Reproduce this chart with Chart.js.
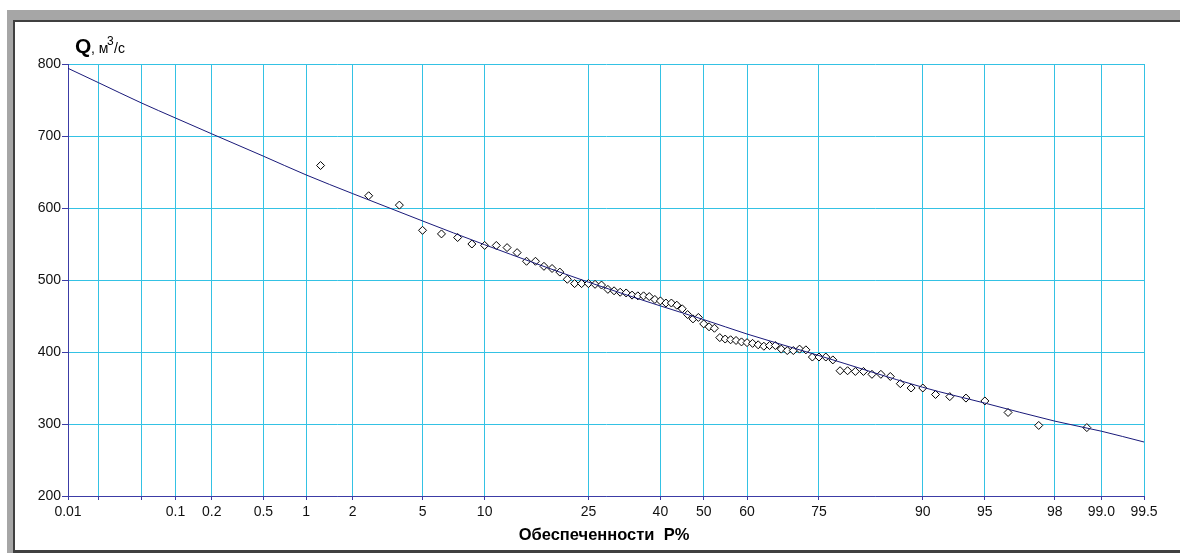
<!DOCTYPE html>
<html>
<head>
<meta charset="utf-8">
<script src="https://cdn.jsdelivr.net/npm/chart.js@4.4.1/dist/chart.umd.min.js"></script>
<style>
  html, body { margin: 0; padding: 0; background: #fff; overflow: hidden; }
  canvas { display: block; }
</style>
</head>
<body>
<canvas id="chart" width="1180" height="553"></canvas>
<script>
// Probability-paper axis: exceedance probability, percent
const tickP = [0.01, 0.02, 0.05, 0.1, 0.2, 0.5, 1, 2, 5, 10, 25, 40, 50, 60, 75, 90, 95, 98, 99, 99.5];
const tickLabels = ['0.01', '', '', '0.1', '0.2', '0.5', '1', '2', '5', '10', '25', '40', '50', '60', '75', '90', '95', '98', '99.0', '99.5'];
const yTicks = [200, 300, 400, 500, 600, 700, 800];

// Fitted supply curve, Q (m3/s) at given P%
const curveP = [0.01, 0.02, 0.05, 0.1, 0.2, 0.5, 1, 2, 5, 10, 25, 40, 50, 60, 75, 90, 95, 98, 99, 99.5];
const curveQ = [794, 774, 746, 725, 703, 672, 646, 620, 582, 549, 497, 464, 445, 425, 395, 351, 329, 304, 290, 275];

// Observed discharges, ranked, with their empirical probabilities P%
const obsP = [1.25, 2.5, 3.75, 5, 6.25, 7.5, 8.75, 10, 11.25, 12.5,
  13.75, 15, 16.25, 17.5, 18.75, 20, 21.25, 22.5, 23.75, 25,
  26.25, 27.5, 28.75, 30, 31.25, 32.5, 33.75, 35, 36.25, 37.5,
  38.75, 40, 41.25, 42.5, 43.75, 45, 46.25, 47.5, 48.75, 50,
  51.25, 52.5, 53.75, 55, 56.25, 57.5, 58.75, 60, 61.25, 62.5,
  63.75, 65, 66.25, 67.5, 68.75, 70, 71.25, 72.5, 73.75, 75,
  76.25, 77.5, 78.75, 80, 81.25, 82.5, 83.75, 85, 86.25, 87.5,
  88.75, 90, 91.25, 92.5, 93.75, 95, 96.25, 97.5, 98.75];
const obsQ = [659, 617, 604, 569, 564, 559, 550, 548, 548, 545,
  538, 526, 526, 519, 516, 511, 501, 495, 495, 495,
  494, 493, 487, 485, 483, 482, 479, 478, 478, 477,
  473, 471, 468, 468, 465, 460, 452, 446, 448, 439,
  435, 433, 420, 418, 417, 416, 414, 413, 412, 410,
  408, 409, 409, 404, 402, 402, 404, 403, 393, 393,
  393, 389, 374, 374, 373, 373, 369, 369, 366, 356,
  350, 350, 341, 338, 336, 332, 316, 298, 295];

// Inverse standard normal CDF (Acklam's rational approximation)
function probit(p) {
  const a = [-3.969683028665376e+01, 2.209460984245205e+02, -2.759285104469687e+02, 1.383577518672690e+02, -3.066479806614716e+01, 2.506628277459239e+00];
  const b = [-5.447609879822406e+01, 1.615858368580409e+02, -1.556989798598866e+02, 6.680131188771972e+01, -1.328068155288572e+01];
  const c = [-7.784894002430293e-03, -3.223964580411365e-01, -2.400758277161838e+00, -2.549671664965861e+00, 4.374664141464968e+00, 2.938163982698783e+00];
  const d = [7.784695709041462e-03, 3.224671290700398e-01, 2.445134137142996e+00, 3.754408661907416e+00];
  const pl = 0.02425, ph = 1 - pl;
  let q, r;
  if (p < pl) {
    q = Math.sqrt(-2 * Math.log(p));
    return (((((c[0]*q + c[1])*q + c[2])*q + c[3])*q + c[4])*q + c[5]) / ((((d[0]*q + d[1])*q + d[2])*q + d[3])*q + 1);
  }
  if (p > ph) {
    q = Math.sqrt(-2 * Math.log(1 - p));
    return -(((((c[0]*q + c[1])*q + c[2])*q + c[3])*q + c[4])*q + c[5]) / ((((d[0]*q + d[1])*q + d[2])*q + d[3])*q + 1);
  }
  q = p - 0.5; r = q * q;
  return (((((a[0]*r + a[1])*r + a[2])*r + a[3])*r + a[4])*r + a[5])*q / (((((b[0]*r + b[1])*r + b[2])*r + b[3])*r + b[4])*r + 1);
}
const zOf = pct => probit(pct / 100);

const GRID = '#34c2e4';
const AXIS = '#3c3ca6';
const FONT = "'Liberation Sans', Arial, sans-serif";

// Window frame and axis titles
const decor = {
  id: 'decor',
  beforeDraw(chart) {
    const ctx = chart.ctx;
    ctx.save();
    ctx.fillStyle = '#ffffff';
    ctx.fillRect(0, 0, chart.width, chart.height);
    ctx.fillStyle = '#a6a6a6';
    ctx.fillRect(7, 10, 1173, 10);
    ctx.fillRect(7, 10, 6, 543);
    ctx.fillStyle = '#404040';
    ctx.fillRect(13, 20, 1167, 2);
    ctx.fillRect(13, 20, 2, 533);
    ctx.fillRect(13, 550, 1167, 3);
    ctx.restore();
  },
  afterDraw(chart) {
    const ctx = chart.ctx;
    ctx.save();
    ctx.fillStyle = '#000';
    ctx.textBaseline = 'alphabetic';
    ctx.textAlign = 'left';
    ctx.font = 'bold 21px ' + FONT;
    ctx.fillText('Q', 75, 53);
    ctx.font = '14px ' + FONT;
    ctx.fillText(', м', 91, 53);
    ctx.font = '12px ' + FONT;
    ctx.fillText('3', 107, 45);
    ctx.font = '14px ' + FONT;
    ctx.fillText('/с', 114, 53);
    ctx.font = 'bold 16.5px ' + FONT;
    ctx.textAlign = 'center';
    ctx.fillText('Обеспеченности  P%', 604, 540);
    ctx.restore();
  }
};

new Chart(document.getElementById('chart'), {
  type: 'scatter',
  data: {
    datasets: [
      {
        type: 'line',
        data: curveP.map((p, i) => ({ x: zOf(p), y: curveQ[i] })),
        borderColor: '#1a1a7a',
        borderWidth: 1,
        pointRadius: 0,
        cubicInterpolationMode: 'monotone',
        fill: false
      },
      {
        data: obsP.map((p, i) => ({ x: zOf(p), y: obsQ[i] })),
        pointStyle: 'rectRot',
        pointRadius: 4,
        borderColor: '#000',
        backgroundColor: '#fff',
        borderWidth: 1,
        showLine: false
      }
    ]
  },
  options: {
    responsive: false,
    devicePixelRatio: 1,
    animation: false,
    layout: { padding: { left: 0, top: 64, right: 36, bottom: 0 } },
    plugins: { legend: { display: false }, tooltip: { enabled: false } },
    scales: {
      x: {
        type: 'linear',
        min: zOf(tickP[0]),
        max: zOf(tickP[tickP.length - 1]),
        afterBuildTicks(scale) { scale.ticks = tickP.map(p => ({ value: zOf(p) })); },
        afterFit(scale) { scale.height = 57; },
        grid: { color: GRID, lineWidth: 1, tickLength: 4, tickColor: AXIS },
        border: { display: true, color: AXIS, width: 1 },
        ticks: {
          autoSkip: false, maxRotation: 0, minRotation: 0, padding: 4,
          color: '#111', font: { family: FONT, size: 14 },
          callback: (v, i) => tickLabels[i]
        }
      },
      y: {
        type: 'linear',
        min: yTicks[0],
        max: yTicks[yTicks.length - 1],
        afterBuildTicks(scale) { scale.ticks = yTicks.map(v => ({ value: v })); },
        afterFit(scale) { scale.width = 68; },
        grid: { color: GRID, lineWidth: 1, tickLength: 6, tickColor: AXIS },
        border: { display: true, color: AXIS, width: 1 },
        ticks: {
          padding: 1, color: '#111', font: { family: FONT, size: 14 },
          callback: v => String(v)
        }
      }
    }
  },
  plugins: [decor]
});
</script>
</body>
</html>
